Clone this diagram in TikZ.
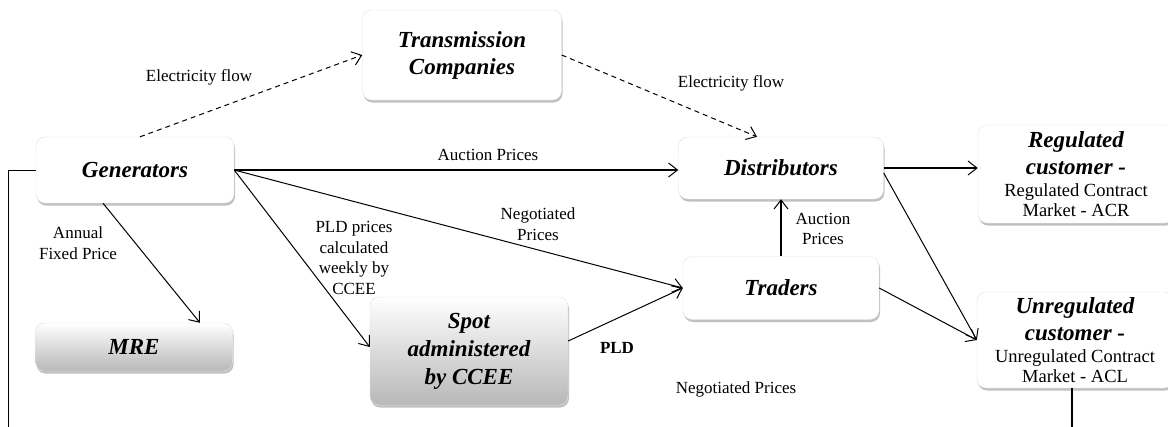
\documentclass[tikz,border=0pt]{standalone}
\usepackage{fontspec}
\setmainfont{Liberation Serif}
\usepackage{tikz}
\usetikzlibrary{shapes.geometric, arrows.meta, shadows}
\usetikzlibrary{positioning}

\newcommand{\boxfont}{\fontsize{23}{27}\selectfont\bfseries\itshape}
\newcommand{\subtextfont}{\fontsize{18.5}{21}\selectfont\mdseries\upshape}
\newcommand{\labelfont}{\fontsize{17}{20.5}\selectfont}

\begin{document}
\begin{tikzpicture}[x=1pt,y=-1pt]

   %Styles of boxes and arrows
   \tikzstyle{partybox} = [rectangle, rounded corners=9pt, draw=black!12, fill=white, text centered, align=center, font=\boxfont, drop shadow={shadow xshift=1pt, shadow yshift=-2.5pt, opacity=0.45, fill=black!55}]
   \tikzstyle{shadedbox} = [partybox, top color=white, middle color=white, bottom color=black!28]
   \tikzstyle{arrow} = [line width=1pt, -{Straight Barb[length=9pt,width=14pt,line width=1pt]}]
   \tikzstyle{bigarrow} = [arrow, line width=1.7pt]
   \tikzstyle{flowarrow} = [arrow, dash pattern=on 5pt off 4pt]
   \tikzstyle{flowlabel} = [font=\labelfont, align=center, inner sep=0pt]

   \useasboundingbox (0,0) rectangle (1168,426);
   \clip (0,0) rectangle (1168,426);

   %Boxes
   \node[partybox, minimum width=198pt, minimum height=66pt] (gen) at (135,170) {Generators};
   \node[partybox, minimum width=199pt, minimum height=90pt] (trans) at (462,55) {Transmission\\Companies};
   \node[partybox, minimum width=205pt, minimum height=62pt] (dist) at (781,168) {Distributors};
   \node[partybox, minimum width=196pt, minimum height=63pt] (trad) at (781,288) {Traders};
   \node[shadedbox, minimum width=197pt, minimum height=48pt] (mre) at (134,347) {MRE};
   \node[shadedbox, minimum width=198pt, minimum height=108pt] (spot) at (469,351) {Spot\\[1pt]administered\\[1pt]by CCEE};
   \node[partybox, minimum width=196pt, minimum height=98pt, inner sep=2pt] (reg) at (1076,174) {Regulated\\customer -\\[-5pt]{\subtextfont Regulated Contract}\\[-7pt]{\subtextfont Market - ACR}};
   \node[partybox, minimum width=196pt, minimum height=96pt, inner sep=2pt] (unreg) at (1075,340) {Unregulated\\customer -\\[-5pt]{\subtextfont Unregulated Contract}\\[-7pt]{\subtextfont Market - ACL}};

   %Free ends
   \coordinate (leftend) at (8,430);
   \coordinate (rightend) at (1072,430);

   %Arrows
   \draw[flowarrow] ([xshift=5pt]gen.north) -- (trans.west);
   \draw[flowarrow] (trans.east) -- ([xshift=-24pt]dist.north);
   \draw[bigarrow] (gen.east) -- (dist.west |- gen.east);
   \draw[arrow] (gen.east) -- (trad.west);
   \draw[arrow] (gen.east) -- ([yshift=4pt]spot.west);
   \draw[arrow] ([xshift=-32pt]gen.south) -- ([xshift=66pt]mre.north);
   \draw[arrow] ([yshift=10pt]spot.east) -- (trad.west);
   \draw[bigarrow] (trad.north) -- (dist.south);
   \draw[bigarrow] (dist.east) -- (dist.east -| reg.west);
   \draw[arrow] ([yshift=-5pt]dist.east) -- (unreg.west);
   \draw[arrow] (trad.east) -- (unreg.west);
   \draw[line width=1pt] (gen.west) -| (leftend);
   \draw[line width=1.4pt] (unreg.south -| rightend) -- (rightend);

   %Labels
   \node[flowlabel] (flowa) at (199,77) {Electricity flow};
   \node[flowlabel] (flowb) at (731,83) {Electricity flow};
   \node[flowlabel] (aucta) at (488,155) {Auction Prices};
   \node[flowlabel] (annual) at (78,243) {Annual\\Fixed Price};
   \node[flowlabel] (pldcalc) at (354,258) {PLD prices\\calculated\\weekly by\\CCEE};
   \node[flowlabel] (nega) at (538,224) {Negotiated\\Prices};
   \node[flowlabel] (auctb) at (823,229) {Auction\\Prices};
   \node[flowlabel, font=\labelfont\bfseries] (pld) at (617,348) {PLD};
   \node[flowlabel] (negb) at (736,389) {Negotiated Prices};

\end{tikzpicture}
\end{document}
